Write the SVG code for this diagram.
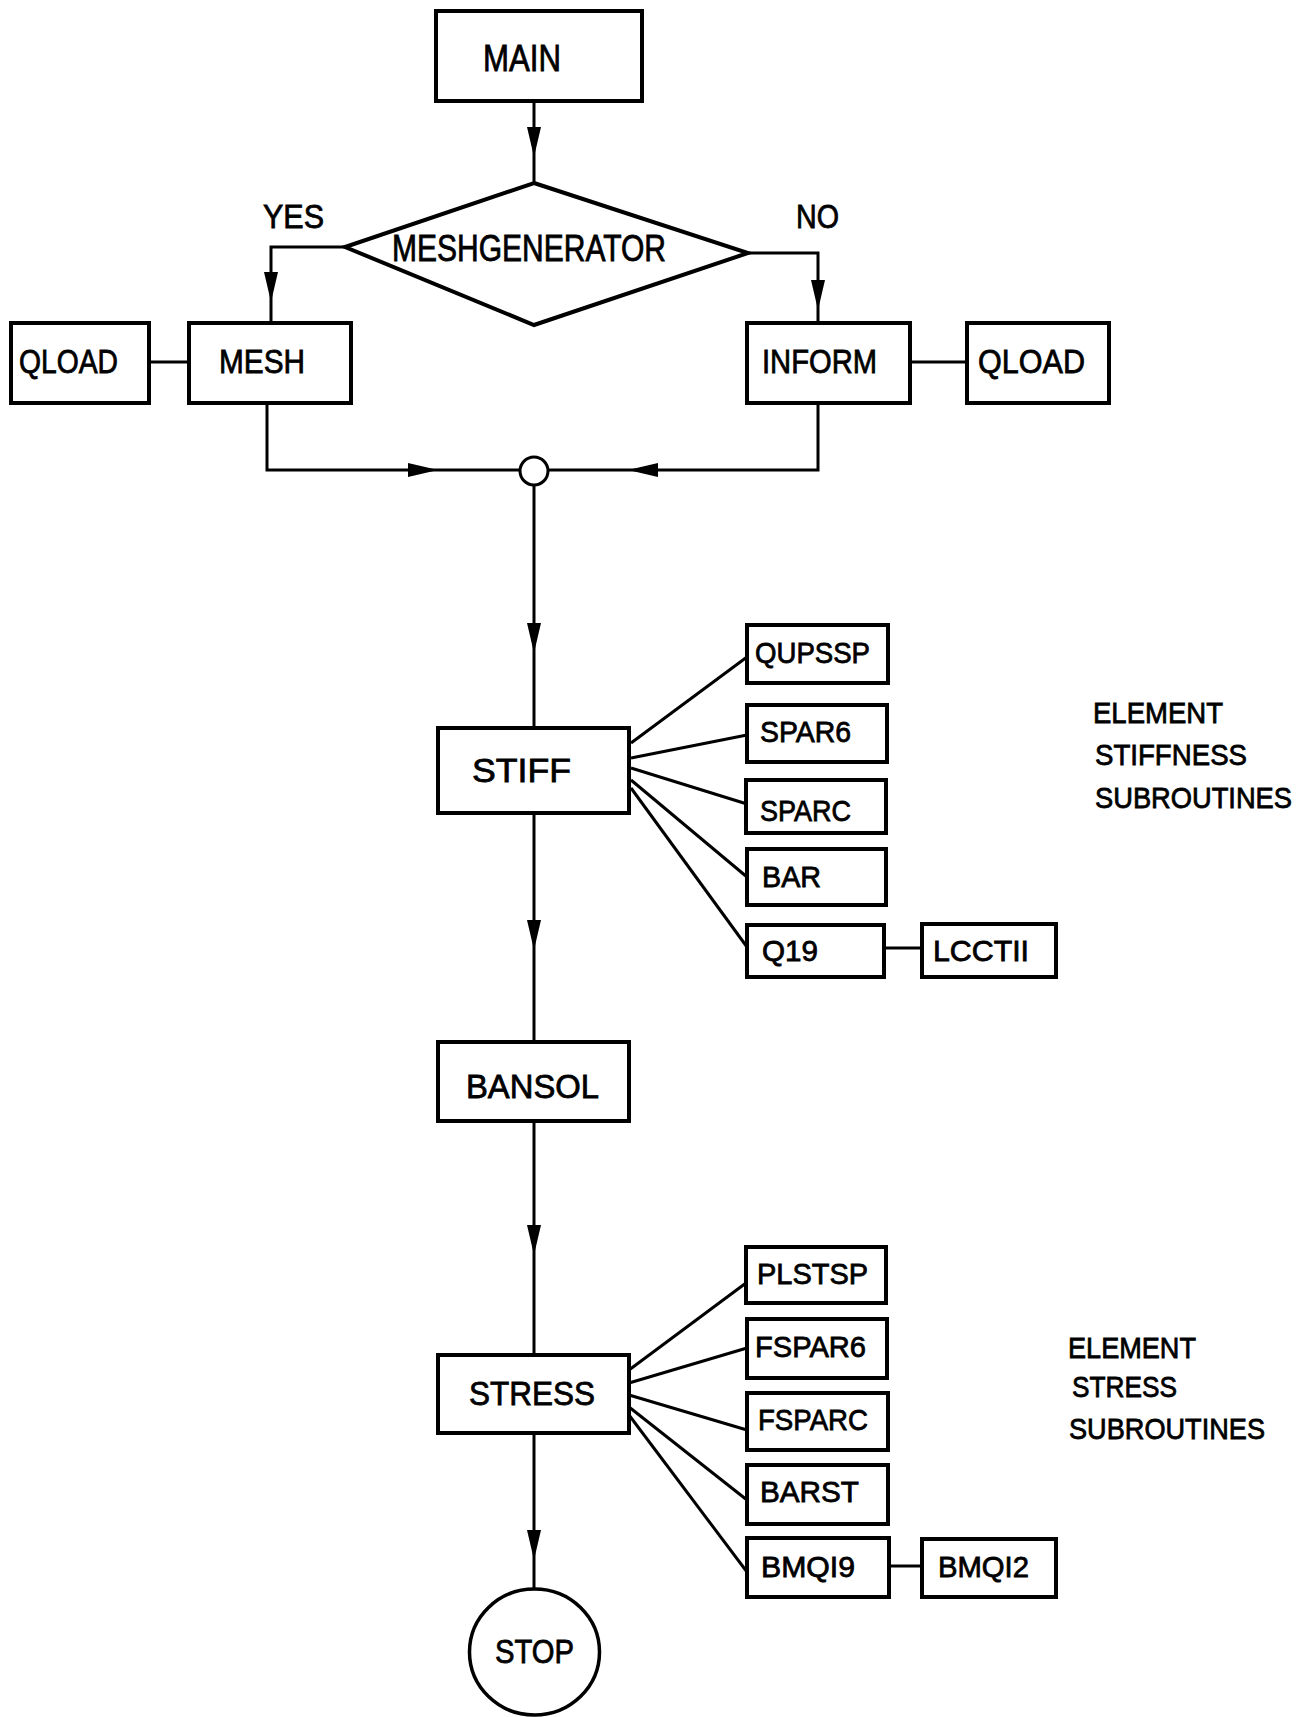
<svg xmlns="http://www.w3.org/2000/svg" xmlns:xlink="http://www.w3.org/1999/xlink" width="1311" height="1717" viewBox="0 0 1311 1717">
<style>
  .box { fill: #fff; stroke: #000; stroke-width: 4; }
  .ln { fill: none; stroke: #000; stroke-width: 3; }
  .fan { fill: none; stroke: #000; stroke-width: 3; }
  .t { font-family: "Liberation Sans", Arial, sans-serif; fill: #000; stroke: #000; stroke-width: 0.8; }
  .big { font-size: 37px; }
  .mid { font-size: 34px; }
  .sm { font-size: 30px; }
</style>
<defs>
  <path id="ah" d="M0,0 L-7,-30 L7,-30 Z" fill="#000"/>
</defs>
<rect width="1311" height="1717" fill="#fff"/>

<g id="connectors">
  <line class="ln" x1="534" y1="101" x2="534" y2="183"/>
  <use xlink:href="#ah" transform="translate(534,157)"/>
  <polyline class="ln" points="345,247 271,247 271,323"/>
  <use xlink:href="#ah" transform="translate(271,302)"/>
  <polyline class="ln" points="748,253 818,253 818,323"/>
  <use xlink:href="#ah" transform="translate(818,310)"/>
  <line class="ln" x1="149" y1="362" x2="189" y2="362"/>
  <line class="ln" x1="910" y1="362" x2="967" y2="362"/>
  <polyline class="ln" points="267,403 267,470 520,470"/>
  <use xlink:href="#ah" transform="translate(438,470) rotate(-90)"/>
  <polyline class="ln" points="818,403 818,470 548,470"/>
  <use xlink:href="#ah" transform="translate(628,470) rotate(90)"/>
  <line class="ln" x1="534" y1="484" x2="534" y2="728"/>
  <use xlink:href="#ah" transform="translate(534,653)"/>
  <line class="ln" x1="534" y1="813" x2="534" y2="1042"/>
  <use xlink:href="#ah" transform="translate(534,950)"/>
  <line class="ln" x1="534" y1="1121" x2="534" y2="1355"/>
  <use xlink:href="#ah" transform="translate(534,1255)"/>
  <line class="ln" x1="534" y1="1433" x2="534" y2="1588"/>
  <use xlink:href="#ah" transform="translate(534,1560)"/>
  <line class="fan" x1="631" y1="743" x2="747" y2="657"/>
  <line class="fan" x1="631" y1="758" x2="747" y2="735"/>
  <line class="fan" x1="631" y1="768" x2="747" y2="804"/>
  <line class="fan" x1="631" y1="780" x2="747" y2="877"/>
  <line class="fan" x1="631" y1="788" x2="747" y2="947"/>
  <line class="ln" x1="884" y1="948" x2="922" y2="948"/>
  <line class="fan" x1="629" y1="1370" x2="746" y2="1283"/>
  <line class="fan" x1="629" y1="1383" x2="747" y2="1348"/>
  <line class="fan" x1="629" y1="1395" x2="747" y2="1430"/>
  <line class="fan" x1="629" y1="1407" x2="747" y2="1500"/>
  <line class="fan" x1="629" y1="1415" x2="747" y2="1572"/>
  <line class="ln" x1="889" y1="1566" x2="922" y2="1566"/>
</g>

<g id="main"><rect class="box" x="436" y="11" width="206" height="90"/><text class="t big" x="483" y="71" textLength="78" lengthAdjust="spacingAndGlyphs">MAIN</text></g>
<g id="meshgenerator"><polygon class="box" points="534,183 748,253 534,325 345,247"/><text class="t big" x="392" y="261" textLength="274" lengthAdjust="spacingAndGlyphs">MESHGENERATOR</text></g>
<g id="yes-label"><text class="t mid" x="263" y="228" textLength="61" lengthAdjust="spacingAndGlyphs">YES</text></g>
<g id="no-label"><text class="t mid" x="796" y="228" textLength="43" lengthAdjust="spacingAndGlyphs">NO</text></g>
<g id="qload1"><rect class="box" x="11" y="323" width="138" height="80"/><text class="t mid" x="19" y="373" textLength="99" lengthAdjust="spacingAndGlyphs">QLOAD</text></g>
<g id="mesh"><rect class="box" x="189" y="323" width="162" height="80"/><text class="t mid" x="219" y="373" textLength="86" lengthAdjust="spacingAndGlyphs">MESH</text></g>
<g id="inform"><rect class="box" x="747" y="323" width="163" height="80"/><text class="t mid" x="762" y="373" textLength="115" lengthAdjust="spacingAndGlyphs">INFORM</text></g>
<g id="qload2"><rect class="box" x="967" y="323" width="142" height="80"/><text class="t mid" x="978" y="373" textLength="107" lengthAdjust="spacingAndGlyphs">QLOAD</text></g>
<g id="junction"><circle cx="534" cy="471" r="14" fill="#fff" stroke="#000" stroke-width="3"/></g>

<g id="stiff"><rect class="box" x="438" y="728" width="191" height="85"/><text class="t mid" x="472" y="782" textLength="99" lengthAdjust="spacingAndGlyphs">STIFF</text></g>
<g id="qupssp"><rect class="box" x="747" y="625" width="141" height="58"/><text class="t sm" x="755" y="663" textLength="115" lengthAdjust="spacingAndGlyphs">QUPSSP</text></g>
<g id="spar6"><rect class="box" x="747" y="705" width="140" height="57"/><text class="t sm" x="760" y="742" textLength="91" lengthAdjust="spacingAndGlyphs">SPAR6</text></g>
<g id="sparc"><rect class="box" x="746" y="780" width="140" height="53"/><text class="t sm" x="760" y="821" textLength="91" lengthAdjust="spacingAndGlyphs">SPARC</text></g>
<g id="bar"><rect class="box" x="747" y="849" width="139" height="56"/><text class="t sm" x="762" y="887" textLength="59" lengthAdjust="spacingAndGlyphs">BAR</text></g>
<g id="q19"><rect class="box" x="747" y="925" width="137" height="52"/><text class="t sm" x="762" y="961" textLength="56" lengthAdjust="spacingAndGlyphs">Q19</text></g>
<g id="lcctii"><rect class="box" x="922" y="924" width="134" height="53"/><text class="t sm" x="933" y="961" textLength="96" lengthAdjust="spacingAndGlyphs">LCCTII</text></g>
<g id="label-stiffness">
  <text class="t sm" x="1093" y="723" textLength="130" lengthAdjust="spacingAndGlyphs">ELEMENT</text>
  <text class="t sm" x="1095" y="765" textLength="152" lengthAdjust="spacingAndGlyphs">STIFFNESS</text>
  <text class="t sm" x="1095" y="808" textLength="197" lengthAdjust="spacingAndGlyphs">SUBROUTINES</text>
</g>

<g id="bansol"><rect class="box" x="438" y="1042" width="191" height="79"/><text class="t mid" x="466" y="1098" textLength="133" lengthAdjust="spacingAndGlyphs">BANSOL</text></g>
<g id="stress"><rect class="box" x="438" y="1355" width="191" height="78"/><text class="t mid" x="469" y="1405" textLength="126" lengthAdjust="spacingAndGlyphs">STRESS</text></g>
<g id="plstsp"><rect class="box" x="746" y="1247" width="140" height="56"/><text class="t sm" x="757" y="1284" textLength="111" lengthAdjust="spacingAndGlyphs">PLSTSP</text></g>
<g id="fspar6"><rect class="box" x="747" y="1319" width="140" height="59"/><text class="t sm" x="755" y="1357" textLength="111" lengthAdjust="spacingAndGlyphs">FSPAR6</text></g>
<g id="fsparc"><rect class="box" x="747" y="1393" width="141" height="57"/><text class="t sm" x="758" y="1430" textLength="110" lengthAdjust="spacingAndGlyphs">FSPARC</text></g>
<g id="barst"><rect class="box" x="747" y="1465" width="141" height="59"/><text class="t sm" x="760" y="1502" textLength="99" lengthAdjust="spacingAndGlyphs">BARST</text></g>
<g id="bmq19"><rect class="box" x="747" y="1538" width="142" height="59"/><text class="t sm" x="761" y="1577" textLength="94" lengthAdjust="spacingAndGlyphs">BMQI9</text></g>
<g id="bmq12"><rect class="box" x="922" y="1539" width="134" height="58"/><text class="t sm" x="938" y="1577" textLength="91" lengthAdjust="spacingAndGlyphs">BMQI2</text></g>
<g id="label-stress">
  <text class="t sm" x="1068" y="1358" textLength="128" lengthAdjust="spacingAndGlyphs">ELEMENT</text>
  <text class="t sm" x="1072" y="1397" textLength="105" lengthAdjust="spacingAndGlyphs">STRESS</text>
  <text class="t sm" x="1069" y="1439" textLength="196" lengthAdjust="spacingAndGlyphs">SUBROUTINES</text>
</g>

<g id="stop"><ellipse cx="534.5" cy="1652" rx="65" ry="63" fill="#fff" stroke="#000" stroke-width="3.5"/><text class="t mid" x="495" y="1663" textLength="79" lengthAdjust="spacingAndGlyphs">STOP</text></g>
</svg>
